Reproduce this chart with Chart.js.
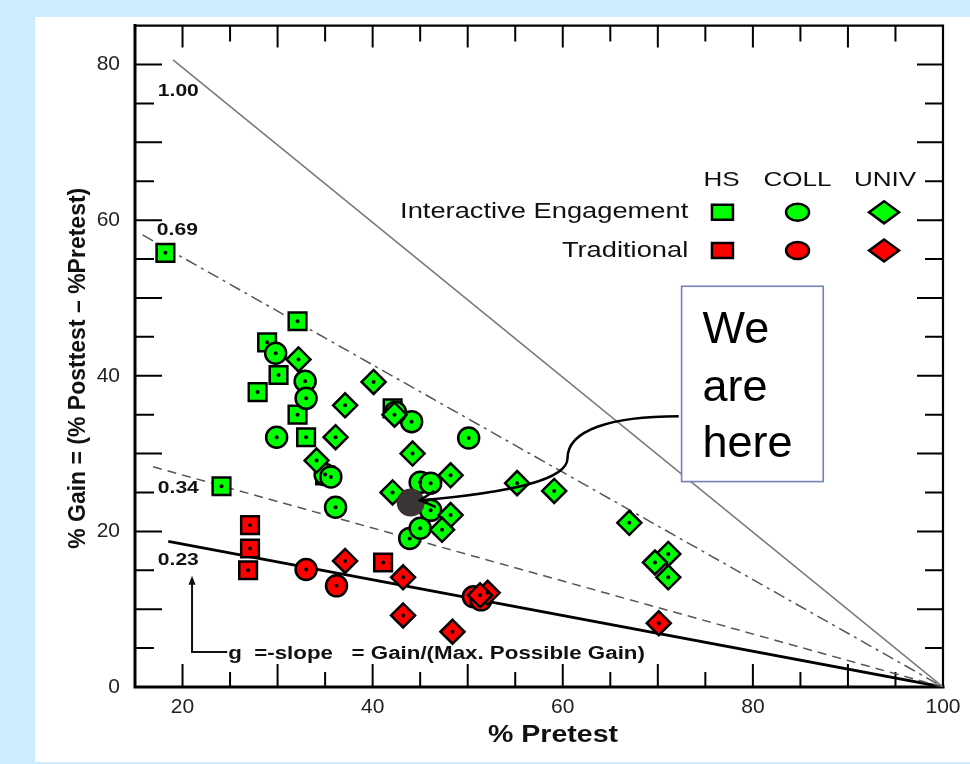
<!DOCTYPE html>
<html>
<head>
<meta charset="utf-8">
<title>Gain vs Pretest</title>
<script src="https://cdn.jsdelivr.net/npm/chart.js@4.4.1/dist/chart.umd.min.js"></script>
<style>
  body { margin: 0; background: #ccecff; width: 970px; height: 764px; overflow: hidden; }
  #panel { position: absolute; left: 35px; top: 17px; width: 935px; height: 745px; background: #fff; }
  #gainChart { position: absolute; left: 35px; top: 6px; }
</style>
</head>
<body>
<div id="panel"></div>
<canvas id="gainChart" width="935" height="756"></canvas>
<script>
'use strict';
// tick labels
var xTicks = [20, 40, 60, 80, 100];
var yTicks = [0, 20, 40, 60, 80];

// Interactive Engagement (green)
var ieHS = [
  {x: 18.2, y: 55.8}, {x: 32.1, y: 47.0}, {x: 28.9, y: 44.3}, {x: 30.1, y: 40.1},
  {x: 27.9, y: 37.9}, {x: 32.1, y: 35.0}, {x: 33.0, y: 32.1}, {x: 35.0, y: 27.2},
  {x: 24.1, y: 25.8}, {x: 42.1, y: 35.8}
];
var ieColl = [
  {x: 29.8, y: 42.9}, {x: 32.9, y: 39.3}, {x: 33.0, y: 37.1}, {x: 29.9, y: 32.1},
  {x: 35.0, y: 27.3}, {x: 35.6, y: 27.0}, {x: 36.1, y: 23.1}, {x: 44.1, y: 34.1},
  {x: 50.1, y: 32.0}, {x: 45.0, y: 26.3}, {x: 46.1, y: 26.2}, {x: 46.1, y: 22.7},
  {x: 43.9, y: 19.1}, {x: 45.0, y: 20.4}, {x: 42.4, y: 35.3}
];
var ieUniv = [
  {x: 32.2, y: 42.1}, {x: 40.1, y: 39.2}, {x: 37.1, y: 36.2}, {x: 36.1, y: 32.1},
  {x: 34.1, y: 29.1}, {x: 44.2, y: 30.0}, {x: 48.2, y: 27.2}, {x: 42.1, y: 25.0},
  {x: 48.2, y: 22.1}, {x: 47.3, y: 20.2}, {x: 55.2, y: 26.2}, {x: 59.1, y: 25.2},
  {x: 67.0, y: 21.1}, {x: 71.1, y: 17.1}, {x: 69.7, y: 16.0}, {x: 71.1, y: 14.1},
  {x: 42.3, y: 35.0}
];
// Traditional (red)
var trHS = [{x: 27.1, y: 20.8}, {x: 27.1, y: 17.8}, {x: 26.9, y: 15.0}, {x: 41.1, y: 16.0}];
var trColl = [{x: 33.0, y: 15.1}, {x: 36.2, y: 13.0}, {x: 50.6, y: 11.6}, {x: 51.4, y: 11.2}];
var trUniv = [
  {x: 37.1, y: 16.2}, {x: 43.2, y: 14.1}, {x: 43.2, y: 9.2}, {x: 48.4, y: 7.1},
  {x: 52.1, y: 12.1}, {x: 51.3, y: 11.8}, {x: 70.1, y: 8.2}
];
var weAreHere = [{x: 44.0, y: 23.7}];

// g lines: start point, all end at (100, 0)
var gLabels = ['1.00', '0.69', '0.34', '0.23'];
var gStart = [{x: 19.0, y: 80.6}, {x: 15.8, y: 58.1}, {x: 16.9, y: 28.3}, {x: 18.5, y: 18.7}];
var gEnd = {x: 100, y: 0};

var STRETCH = 1.24;
var GREEN = '#00ff00', RED = '#ff0000';

function wideText(ctx, txt, x, y, font, align, stretch) {
  ctx.save();
  ctx.font = font;
  ctx.textAlign = align;
  ctx.textBaseline = 'middle';
  ctx.translate(x, y);
  ctx.scale(stretch, 1);
  ctx.fillText(txt, 0, 0);
  ctx.restore();
}

function markerSet(data, style, color, radius, order) {
  return {
    data: data, pointStyle: style, pointRadius: radius, backgroundColor: color,
    borderColor: '#000', pointBorderWidth: 2.5, order: order, centerDot: true
  };
}

var lineStyles = [
  {color: '#777', width: 1.5, dash: []},
  {color: '#555', width: 1.5, dash: [12, 5, 3, 5]},
  {color: '#555', width: 1.5, dash: [9, 6]},
  {color: '#000', width: 2.8, dash: []}
];

var datasets = [
  {data: weAreHere, pointRadius: 14, backgroundColor: '#3b3434', borderWidth: 0, order: 0},
  markerSet(ieHS, 'rect', GREEN, 12.5, 3),
  markerSet(ieColl, 'circle', GREEN, 10.5, 2),
  markerSet(ieUniv, 'rectRot', GREEN, 12, 1),
  markerSet(trHS, 'rect', RED, 12.5, 6),
  markerSet(trColl, 'circle', RED, 10.5, 5),
  markerSet(trUniv, 'rectRot', RED, 12, 4)
];
gStart.forEach(function (s, i) {
  datasets.push({
    data: [s, gEnd], showLine: true, pointRadius: 0, fill: false,
    borderColor: lineStyles[i].color, borderWidth: lineStyles[i].width,
    borderDash: lineStyles[i].dash, order: 10 + i
  });
});

// inward ticks and the box frame
var frame = {
  id: 'frame',
  beforeDatasetsDraw: function (chart) {
    var ctx = chart.ctx, a = chart.chartArea, x = chart.scales.x, y = chart.scales.y;
    ctx.save();
    ctx.strokeStyle = '#000';
    ctx.lineWidth = 2;
    ctx.beginPath();
    for (var v = 20; v < 100; v += 5) {
      var p = x.getPixelForValue(v);
      var major = v % 10 === 0;
      ctx.moveTo(p, a.bottom); ctx.lineTo(p, a.bottom - (major ? 23 : 15));
      ctx.moveTo(p, a.top); ctx.lineTo(p, a.top + (major ? 22 : 16));
    }
    for (var w = 5; w <= 80; w += 5) {
      var q = y.getPixelForValue(w);
      var maj = w % 10 === 0;
      ctx.moveTo(a.left, q); ctx.lineTo(a.left + (maj ? 27 : 19), q);
      ctx.moveTo(a.right, q); ctx.lineTo(a.right - (maj ? 26 : 18), q);
    }
    ctx.stroke();
    ctx.lineCap = 'square';
    ctx.lineWidth = 3;
    ctx.beginPath();
    ctx.moveTo(a.left, a.top); ctx.lineTo(a.left, a.bottom); ctx.lineTo(a.right, a.bottom);
    ctx.stroke();
    ctx.lineWidth = 2.2;
    ctx.beginPath();
    ctx.moveTo(a.left, a.top); ctx.lineTo(a.right, a.top); ctx.lineTo(a.right, a.bottom);
    ctx.stroke();
    ctx.restore();
  },
  afterDatasetDraw: function (chart, args) {
    var ds = chart.data.datasets[args.index];
    if (!ds.centerDot) return;
    var ctx = chart.ctx;
    ctx.save();
    ctx.fillStyle = '#000';
    args.meta.data.forEach(function (el) {
      ctx.beginPath();
      ctx.arc(el.x, el.y, 2, 0, Math.PI * 2);
      ctx.fill();
    });
    ctx.restore();
  }
};

var notes = {
  id: 'notes',
  afterDatasetsDraw: function (chart) {
    var ctx = chart.ctx, a = chart.chartArea;
    var X = function (v) { return chart.scales.x.getPixelForValue(v); };
    var Y = function (v) { return chart.scales.y.getPixelForValue(v); };
    ctx.save();
    ctx.fillStyle = '#111';

    // g labels
    var labelPos = [{x: 17.4, y: 76.5}, {x: 17.3, y: 58.7}, {x: 17.4, y: 25.5}, {x: 17.4, y: 16.3}];
    gLabels.forEach(function (t, i) {
      wideText(ctx, t, X(labelPos[i].x), Y(labelPos[i].y), 'bold 17px Arial', 'left', STRETCH);
    });

    // slope note with the bent arrow
    ctx.strokeStyle = '#111';
    ctx.lineWidth = 2;
    ctx.beginPath();
    ctx.moveTo(X(21.0), Y(13.4));
    ctx.lineTo(X(21.0), Y(4.5));
    ctx.lineTo(X(24.7), Y(4.5));
    ctx.stroke();
    ctx.beginPath();
    ctx.moveTo(X(21.0), Y(14.3));
    ctx.lineTo(X(21.0) - 3.5, Y(14.3) + 9);
    ctx.lineTo(X(21.0) + 3.5, Y(14.3) + 9);
    ctx.closePath();
    ctx.fill();
    wideText(ctx, 'g  =-slope   = Gain/(Max. Possible Gain)', X(24.8), Y(4.2), 'bold 18px Arial', 'left', STRETCH);

    // legend
    wideText(ctx, 'HS', X(76.7), Y(65.1), '21px Arial', 'center', STRETCH);
    wideText(ctx, 'COLL', X(84.7), Y(65.1), '21px Arial', 'center', STRETCH);
    wideText(ctx, 'UNIV', X(93.9), Y(65.1), '21px Arial', 'center', STRETCH);
    wideText(ctx, 'Interactive Engagement', X(73.2), Y(61.0), '22px Arial', 'right', STRETCH);
    wideText(ctx, 'Traditional', X(73.2), Y(56.1), '22px Arial', 'right', STRETCH);
    [[61.0, GREEN], [56.1, RED]].forEach(function (row) {
      var ry = Y(row[0]);
      ctx.fillStyle = row[1];
      ctx.strokeStyle = '#000';
      ctx.lineWidth = 2.5;
      ctx.beginPath();
      ctx.rect(X(76.8) - 10.5, ry - 7.5, 21, 15);
      ctx.fill(); ctx.stroke();
      ctx.beginPath();
      ctx.ellipse(X(84.7), ry, 11.5, 8.5, 0, 0, Math.PI * 2);
      ctx.fill(); ctx.stroke();
      var dx = X(93.8);
      ctx.beginPath();
      ctx.moveTo(dx - 15, ry); ctx.lineTo(dx, ry - 11); ctx.lineTo(dx + 15, ry); ctx.lineTo(dx, ry + 11);
      ctx.closePath();
      ctx.fill(); ctx.stroke();
    });

    // "We are here" call-out
    var bl = X(72.5), br = X(87.4), bt = Y(51.5), bb = Y(26.4);
    ctx.fillStyle = '#fff';
    ctx.fillRect(bl, bt, br - bl, bb - bt);
    ctx.strokeStyle = '#7483b5';
    ctx.lineWidth = 1.6;
    ctx.strokeRect(bl, bt, br - bl, bb - bt);
    ctx.fillStyle = '#000';
    ctx.font = '45px Arial';
    ctx.textAlign = 'left';
    ctx.textBaseline = 'alphabetic';
    ctx.fillText('We', X(74.7), Y(44.2));
    ctx.fillText('are', X(74.7), Y(36.8));
    ctx.fillText('here', X(74.7), Y(29.5));

    ctx.strokeStyle = '#000';
    ctx.lineWidth = 2.5;
    var tipX = X(45.0), tipY = Y(24.0), c4x = X(54.5), c4y = Y(25.0);
    ctx.beginPath();
    ctx.moveTo(X(72.2), Y(34.8));
    ctx.bezierCurveTo(X(65.0), Y(34.8), X(60.5), Y(33.0), X(60.5), Y(29.4));
    ctx.bezierCurveTo(X(60.5), Y(26.6), c4x, c4y, tipX, tipY);
    ctx.stroke();
    var ang = Math.atan2(tipY - c4y, tipX - c4x);
    ctx.beginPath();
    ctx.moveTo(tipX - 17 * Math.cos(ang - 0.5), tipY - 17 * Math.sin(ang - 0.5));
    ctx.lineTo(tipX, tipY);
    ctx.lineTo(tipX - 17 * Math.cos(ang + 0.5), tipY - 17 * Math.sin(ang + 0.5));
    ctx.stroke();

    // axis titles
    ctx.fillStyle = '#111';
    wideText(ctx, '% Pretest', (a.left + a.right) / 2 + 14, a.bottom + 49, 'bold 23px Arial', 'center', STRETCH);
    ctx.save();
    ctx.translate(a.left - 56, (a.top + a.bottom) / 2 + 12);
    ctx.rotate(-Math.PI / 2);
    ctx.font = 'bold 23px Arial';
    ctx.textAlign = 'center';
    ctx.textBaseline = 'middle';
    ctx.fillText('% Gain = (% Posttest \u2013 %Pretest)', 0, 0);
    ctx.restore();
    ctx.restore();
  }
};

new Chart(document.getElementById('gainChart'), {
  type: 'scatter',
  data: {datasets: datasets},
  options: {
    responsive: false,
    animation: false,
    events: [],
    layout: {padding: {top: 8, right: 27, left: 0, bottom: 0}},
    plugins: {legend: {display: false}, tooltip: {enabled: false}},
    scales: {
      x: {
        type: 'linear', min: 15, max: 100,
        afterBuildTicks: function (s) { s.ticks = xTicks.map(function (v) { return {value: v}; }); },
        afterFit: function (s) { s.height = 75; },
        grid: {display: false}, border: {display: false},
        ticks: {padding: 0, color: '#222', font: {family: 'Arial', size: 21}}
      },
      y: {
        type: 'linear', min: 0, max: 85,
        afterBuildTicks: function (s) { s.ticks = yTicks.map(function (v) { return {value: v}; }); },
        afterFit: function (s) { s.width = 100; },
        grid: {display: false}, border: {display: false},
        ticks: {padding: 7, color: '#222', font: {family: 'Arial', size: 21}}
      }
    }
  },
  plugins: [frame, notes]
});
</script>
</body>
</html>
